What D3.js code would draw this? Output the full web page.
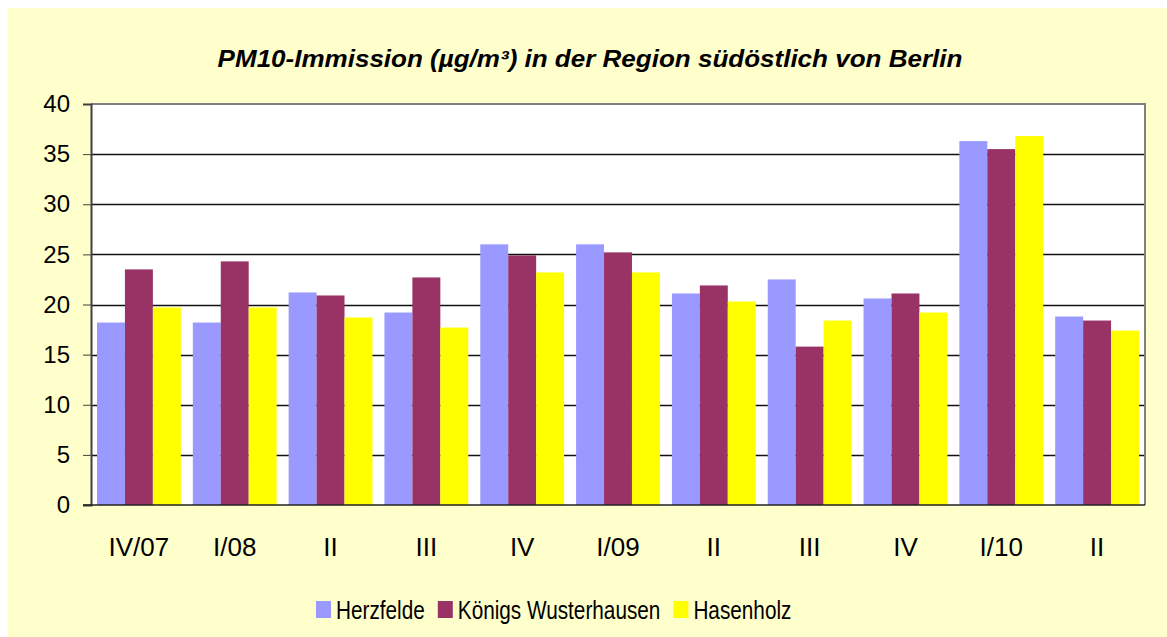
<!DOCTYPE html>
<html>
<head>
<meta charset="utf-8">
<script src="https://cdn.jsdelivr.net/npm/d3@7"></script>
<style>
  body { margin: 0; background: #fff; }
  text { font-family: Arial, "Liberation Sans", sans-serif; fill: #000; }
</style>
</head>
<body>
<svg id="chart" width="1167" height="637"></svg>
<script>
// quarters shown on the x axis
const quarters = ["IV/07", "I/08", "II", "III", "IV", "I/09", "II", "III", "IV", "I/10", "II"];
const seriesNames = ["Herzfelde", "Königs Wusterhausen", "Hasenholz"];
const herzfelde  = [18.2, 18.2, 21.2, 19.2, 26.0, 26.0, 21.1, 22.5, 20.6, 36.3, 18.8];
const koenigsWh  = [23.5, 24.3, 20.9, 22.7, 24.9, 25.2, 21.9, 15.8, 21.1, 35.5, 18.4];
const hasenholz  = [19.7, 19.7, 18.7, 17.7, 23.2, 23.2, 20.3, 18.4, 19.2, 36.8, 17.4];
const yTicks = [0, 5, 10, 15, 20, 25, 30, 35, 40];
const colours = ["#9999FF", "#993366", "#FFFF00"];

const svg = d3.select("#chart");

// chart area background
svg.append("rect")
    .attr("x", 8).attr("y", 8)
    .attr("width", 1159).attr("height", 629)
    .attr("fill", "#FFFFCC");

// plot box
const plot = { left: 91, top: 104, right: 1145, bottom: 505 };

svg.append("rect")
    .attr("x", plot.left).attr("y", plot.top)
    .attr("width", plot.right - plot.left)
    .attr("height", plot.bottom - plot.top)
    .attr("fill", "#fff");

// title (stretched a bit wider like the original)
const title = svg.append("text")
    .attr("text-anchor", "middle")
    .attr("font-size", "23px")
    .attr("font-weight", "bold")
    .attr("font-style", "italic")
    .text("PM10-Immission (µg/m³) in der Region südöstlich von Berlin");
const titleW = title.node().getComputedTextLength();
title.attr("transform", `translate(590,67) scale(${745 / titleW},1)`);

// scales
const x = d3.scaleBand()
    .domain(d3.range(quarters.length))
    .range([plot.left, plot.right])
    .padding(0);

const gap = 12;
const xInner = d3.scaleBand()
    .domain(d3.range(seriesNames.length))
    .range([gap / 2, x.bandwidth() - gap / 2])
    .padding(0);

const y = d3.scaleLinear()
    .domain([0, 40])
    .range([plot.bottom, plot.top]);

// horizontal gridlines
svg.append("g")
    .selectAll("line")
    .data(yTicks.filter(d => d > 0 && d < 40))
    .join("line")
    .attr("x1", plot.left).attr("x2", plot.right)
    .attr("y1", d => Math.round(y(d)) + 0.5)
    .attr("y2", d => Math.round(y(d)) + 0.5)
    .attr("stroke", "#111")
    .attr("stroke-width", 1.3);

// bars
const seriesData = [herzfelde, koenigsWh, hasenholz];
seriesData.forEach((vals, s) => {
    svg.append("g")
        .attr("fill", colours[s])
        .selectAll("rect")
        .data(vals)
        .join("rect")
        .attr("x", (d, i) => x(i) + xInner(s))
        .attr("y", d => y(d))
        .attr("width", xInner.bandwidth())
        .attr("height", d => y(0) - y(d));
});

// plot border top and right
svg.append("path")
    .attr("d", `M${plot.left},${plot.top}H${plot.right}V${plot.bottom}`)
    .attr("fill", "none")
    .attr("stroke", "#808080")
    .attr("stroke-width", 2);

// y axis
const yAxis = svg.append("g")
    .attr("transform", `translate(${plot.left},0)`)
    .call(d3.axisLeft(y).tickValues(yTicks).tickSize(8).tickPadding(13));
yAxis.select(".domain").attr("stroke", "#404040").attr("stroke-width", 2);
yAxis.selectAll(".tick line").attr("stroke", "#404040");
yAxis.selectAll(".tick text")
    .attr("font-size", "24px")
    .attr("font-family", "Arial, 'Liberation Sans', sans-serif")
    .attr("fill", "#000");

// x axis line
svg.append("line")
    .attr("x1", plot.left - 8).attr("x2", plot.right)
    .attr("y1", plot.bottom).attr("y2", plot.bottom)
    .attr("stroke", "#222")
    .attr("stroke-width", 1.5);

// category labels
svg.append("g")
    .selectAll("text")
    .data(quarters)
    .join("text")
    .attr("x", (d, i) => x(i) + x.bandwidth() / 2)
    .attr("y", 556)
    .attr("text-anchor", "middle")
    .attr("font-size", "26px")
    .text(d => d);

// legend
const legend = svg.append("g").attr("transform", "translate(316,0)");
let lx = 0;
seriesNames.forEach((name, i) => {
    legend.append("rect")
        .attr("x", lx).attr("y", 601)
        .attr("width", 15).attr("height", 17)
        .attr("fill", colours[i]);
    const t = legend.append("text")
        .attr("transform", `translate(${lx + 20},619) scale(0.83,1)`)
        .attr("font-size", "25px")
        .text(name);
    lx += 20 + t.node().getComputedTextLength() * 0.83 + 13;
});
</script>
</body>
</html>
